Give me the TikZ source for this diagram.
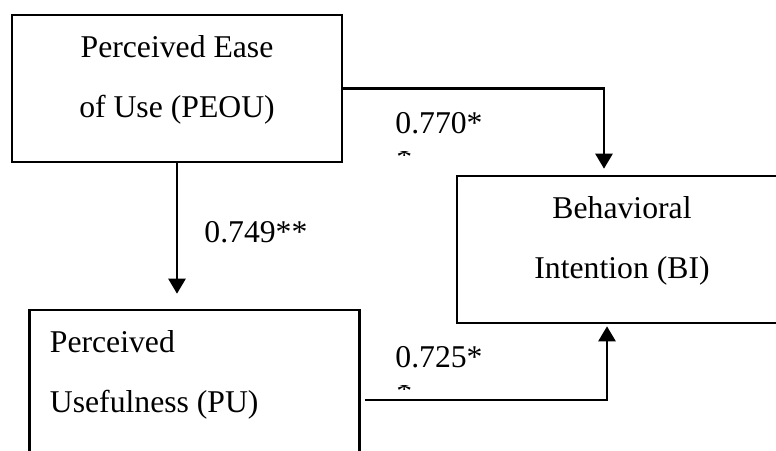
\documentclass[tikz,border=0pt]{standalone}
\usepackage{fontspec}
\setmainfont{Liberation Serif}
\usetikzlibrary{arrows.meta}

\tikzset{
    box/.style={draw, line width=1.3pt, minimum width=165pt, minimum height=73.5pt},
    txt/.style={font=\fontsize{15.85}{30}\selectfont, inner sep=0pt},
    coeff/.style={font=\fontsize{15.85}{30}\selectfont, inner sep=0pt},
    arr/.style={line width=1.3pt, -{Triangle[length=7.5pt,width=8.5pt]}}
}

\begin{document}
\begin{tikzpicture}[x=0.5pt,y=-0.5pt]

    % Frame
    \clip (0,0) rectangle (776,450);

    % Constructs
    \node[box] (peou) at (177,88.5) {};
    \node[txt, align=center] (peoutext) at (177,80) {Perceived Ease\\of Use (PEOU)};

    \node[box] (bi) at (622,249.5) {};
    \node[txt, align=center] (bitext) at (622,240.5) {Behavioral\\Intention (BI)};

    \node[box] (pu) at (194.5,383.5) {};
    \node[txt, align=left, anchor=west] (putext) at (49.5,375) {Perceived\\Usefulness (PU)};

    % Paths
    \draw[arr, shorten >=3pt] (peou.east) -| ([xshift=-9pt]bi.north);
    \draw[arr, shorten >=7.5pt] (peou.south) -- (peou.south |- pu.north);
    \draw[arr, shorten >=1pt] ([shift={(2pt,-8.25pt)}]pu.east) -| ([xshift=-7.5pt]bi.south);

    % Coefficients
    \node[coeff, anchor=base west] (c1) at (395,133) {0.770*};
    \node[coeff, anchor=base west] (c2) at (204,242) {0.749**};
    \node[coeff, anchor=base west] (c3) at (395,367) {0.725*};

    % Cut-off second lines
    \begin{scope}
        \clip (394,151) rectangle (412,155);
        \node[coeff, anchor=north west] (s1) at (396,146) {*};
    \end{scope}
    \begin{scope}
        \clip (394,385) rectangle (412,389);
        \node[coeff, anchor=north west] (s3) at (396,380) {*};
    \end{scope}
\end{tikzpicture}
\end{document}
